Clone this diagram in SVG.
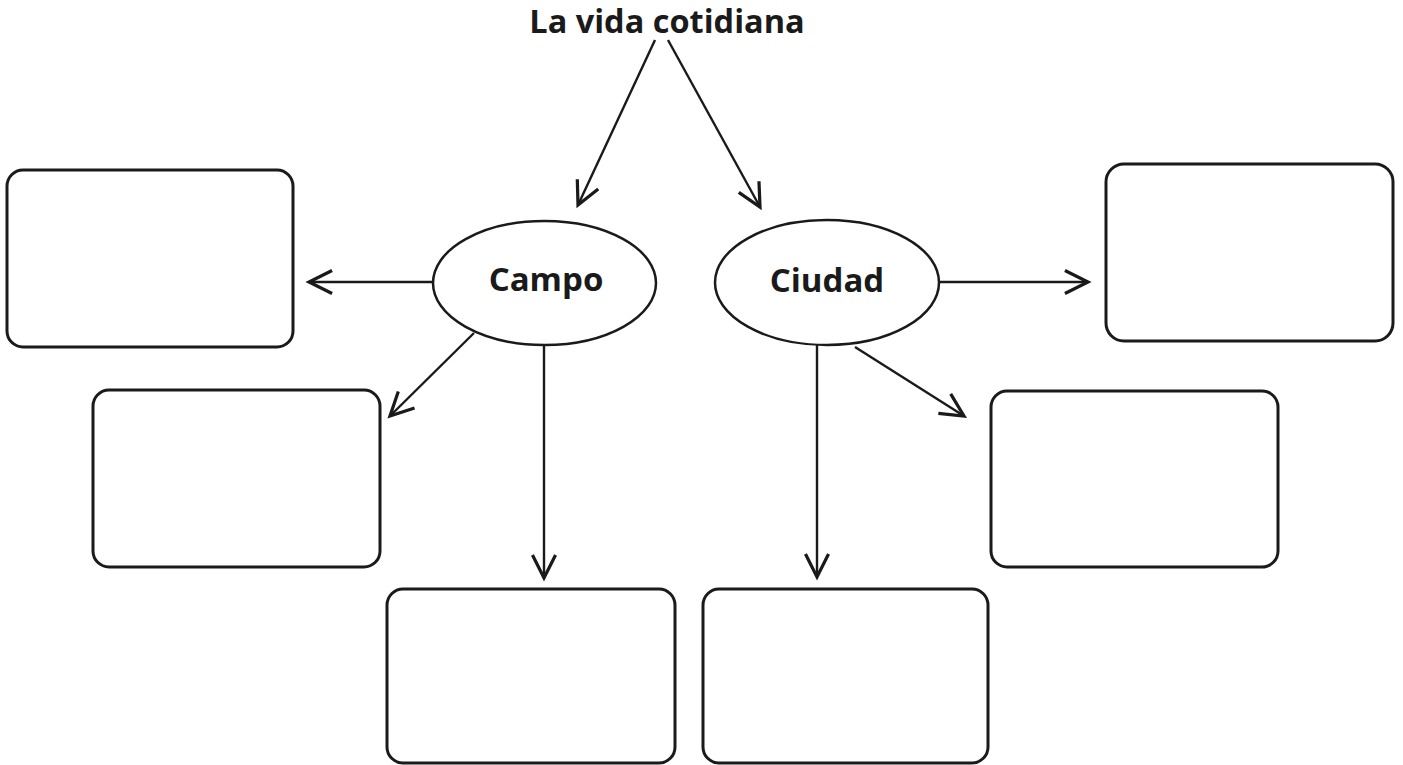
<svg xmlns="http://www.w3.org/2000/svg" width="1403" height="765" viewBox="0 0 1403 765">
<style>
.box{fill:#fff;stroke:#1a1a1a;stroke-width:3}
.ell{fill:#fff;stroke:#1a1a1a;stroke-width:2.5}
.lbl{font-family:"Open Sans","Noto Sans",sans-serif;font-weight:bold;fill:#1a1a1a;text-anchor:middle}
.con line{stroke:#1a1a1a;stroke-width:2.4;marker-end:url(#arr)}
</style>
<defs>
<marker id="arr" markerUnits="userSpaceOnUse" markerWidth="30" markerHeight="30" viewBox="-22 -12 26 24" refX="0" refY="0" orient="auto">
<path d="M-20,-10 L0,0 L-20,10" fill="none" stroke="#1a1a1a" stroke-width="2.8"/>
</marker>
</defs>
<rect width="1403" height="765" fill="#fff"/>
<g id="title"><text class="lbl" x="667" y="33" font-size="32.5">La vida cotidiana</text></g>
<g class="con" id="connectors">
<line x1="655" y1="40" x2="578" y2="205"/>
<line x1="668" y1="40" x2="760" y2="207"/>
<line x1="433" y1="282" x2="309" y2="282"/>
<line x1="474" y1="333" x2="390" y2="416"/>
<line x1="544" y1="345" x2="544" y2="578"/>
<line x1="817" y1="345" x2="817" y2="577"/>
<line x1="855" y1="347" x2="964" y2="416"/>
<line x1="939" y1="282" x2="1088" y2="282"/>
</g>
<g id="campo"><ellipse class="ell" cx="544.5" cy="283" rx="111.5" ry="62"/><text class="lbl" x="546" y="291" font-size="33">Campo</text></g>
<g id="ciudad"><ellipse class="ell" cx="827" cy="282.5" rx="112" ry="62.5"/><text class="lbl" x="827" y="292" font-size="33">Ciudad</text></g>
<g id="box1"><rect class="box" x="7" y="170" width="286" height="177" rx="16"/></g>
<g id="box2"><rect class="box" x="93" y="390" width="287" height="177" rx="16"/></g>
<g id="box3"><rect class="box" x="387" y="589" width="288" height="174" rx="16"/></g>
<g id="box4"><rect class="box" x="703" y="589" width="285" height="174" rx="16"/></g>
<g id="box5"><rect class="box" x="991" y="391" width="287" height="176" rx="16"/></g>
<g id="box6"><rect class="box" x="1106" y="164" width="287" height="177" rx="18"/></g>
</svg>
